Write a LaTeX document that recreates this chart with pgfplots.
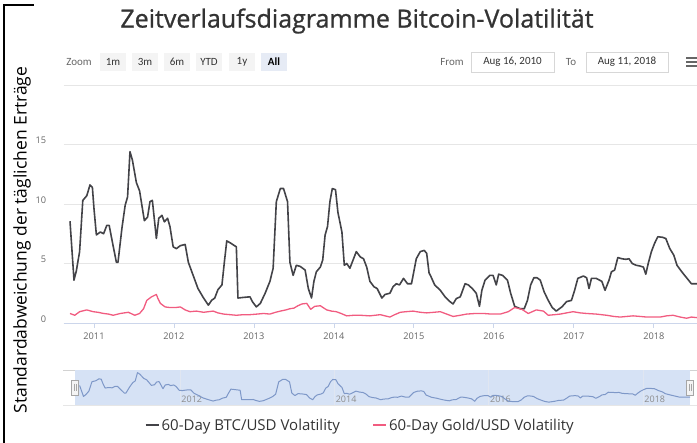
\documentclass[border=0pt]{standalone}
\usepackage{fontspec}
\setmainfont{Open Sans}
\newfontfamily\carl{Carlito}
\newfontfamily\titlefont{Open Sans}[FakeBold=0.9]
\usepackage{pgfplots}
\pgfplotsset{compat=1.18}
\definecolor{btc}{HTML}{434348}
\definecolor{gold}{HTML}{F15C80}
\definecolor{gridc}{HTML}{E6E6E6}
\definecolor{axisc}{HTML}{CCD6EB}
\definecolor{labc}{HTML}{666666}
\definecolor{navfill}{HTML}{D6E2F5}
\definecolor{navline}{HTML}{7E9BD0}
\definecolor{btnbg}{HTML}{F4F4F4}
\definecolor{btnsel}{HTML}{E6EBF5}
\definecolor{titc}{HTML}{333333}

\pgfplotstableread{
x y
2010.70 8.55
2010.75 3.6
2010.78 4.4
2010.82 6.0
2010.86 10.3
2010.91 10.7
2010.95 11.6
2010.98 11.4
2011.00 9.6
2011.03 7.4
2011.08 7.65
2011.12 7.5
2011.16 8.2
2011.19 8.2
2011.23 6.8
2011.28 5.1
2011.30 5.1
2011.35 8.0
2011.39 9.9
2011.42 10.6
2011.45 14.4
2011.48 13.7
2011.53 11.8
2011.57 11.1
2011.63 8.6
2011.67 8.9
2011.70 10.2
2011.73 10.3
2011.78 7.1
2011.81 8.8
2011.85 9.05
2011.88 8.5
2011.92 8.8
2011.95 8.1
2011.99 6.4
2012.03 6.25
2012.08 6.5
2012.14 6.6
2012.18 5.1
2012.24 4.0
2012.30 2.9
2012.37 2.1
2012.43 1.5
2012.47 1.9
2012.51 2.1
2012.55 2.8
2012.60 3.2
2012.63 5.1
2012.66 6.9
2012.70 6.75
2012.78 6.4
2012.80 2.1
2012.87 2.15
2012.95 2.2
2012.98 1.8
2013.03 1.35
2013.08 1.65
2013.14 2.5
2013.20 3.5
2013.24 4.6
2013.28 10.2
2013.33 11.3
2013.37 11.3
2013.42 10.2
2013.45 5.1
2013.49 4.0
2013.53 4.85
2013.58 4.75
2013.64 4.45
2013.68 2.9
2013.72 2.1
2013.75 3.5
2013.78 4.3
2013.83 4.7
2013.86 5.3
2013.89 7.4
2013.92 8.1
2013.95 10.2
2013.98 11.3
2014.02 11.2
2014.05 9.3
2014.10 7.65
2014.13 4.85
2014.16 5.0
2014.20 4.6
2014.24 5.3
2014.28 6.0
2014.33 5.55
2014.37 5.4
2014.41 4.7
2014.45 3.5
2014.50 3.05
2014.54 2.9
2014.60 2.1
2014.64 2.4
2014.70 2.5
2014.74 3.05
2014.78 3.3
2014.82 3.2
2014.87 3.75
2014.92 3.3
2014.97 3.3
2015.03 5.4
2015.08 6.0
2015.13 6.1
2015.16 5.85
2015.19 4.2
2015.21 3.95
2015.26 3.2
2015.33 2.75
2015.39 2.2
2015.45 1.8
2015.49 1.6
2015.53 2.05
2015.58 2.2
2015.64 3.3
2015.68 3.2
2015.73 2.9
2015.78 2.5
2015.82 1.4
2015.85 2.75
2015.89 3.6
2015.95 4.0
2015.99 4.0
2016.03 3.2
2016.06 4.1
2016.11 4.0
2016.17 3.6
2016.21 2.5
2016.26 1.4
2016.33 1.2
2016.38 1.2
2016.42 1.9
2016.46 3.2
2016.50 3.8
2016.54 3.8
2016.58 3.6
2016.63 2.6
2016.68 1.9
2016.73 1.3
2016.78 1.0
2016.85 1.35
2016.91 1.8
2016.97 1.9
2017.01 2.75
2017.05 3.75
2017.12 3.95
2017.16 3.8
2017.19 2.9
2017.22 3.75
2017.28 3.75
2017.35 3.5
2017.39 2.75
2017.44 3.6
2017.47 4.3
2017.51 4.45
2017.55 5.5
2017.60 5.4
2017.65 5.35
2017.69 5.4
2017.73 5.0
2017.78 4.85
2017.82 4.8
2017.87 4.7
2017.90 4.1
2017.93 5.0
2017.97 6.0
2018.01 6.7
2018.05 7.25
2018.11 7.2
2018.15 7.1
2018.20 6.25
2018.25 5.7
2018.29 4.85
2018.35 4.3
2018.41 3.8
2018.47 3.3
2018.54 3.3
2018.61 3.3
}\btcdata

\pgfplotstableread{
x y
2010.70 0.8
2010.76 0.65
2010.82 0.95
2010.91 1.1
2010.99 0.95
2011.05 0.9
2011.12 0.8
2011.18 0.75
2011.24 0.65
2011.33 0.8
2011.43 0.9
2011.51 0.65
2011.57 0.8
2011.62 1.2
2011.66 1.9
2011.72 2.2
2011.78 2.4
2011.80 2.05
2011.83 1.65
2011.89 1.35
2011.95 1.3
2012.02 1.3
2012.08 1.35
2012.14 1.1
2012.20 0.95
2012.28 1.0
2012.37 0.9
2012.43 0.95
2012.49 1.0
2012.55 0.85
2012.62 0.75
2012.70 0.7
2012.78 0.65
2012.87 0.7
2012.95 0.7
2013.04 0.75
2013.12 0.8
2013.20 0.75
2013.27 0.9
2013.33 1.0
2013.40 1.1
2013.45 1.2
2013.50 1.25
2013.55 1.45
2013.60 1.6
2013.66 1.65
2013.71 1.15
2013.76 1.4
2013.83 1.45
2013.91 1.1
2013.97 1.0
2014.03 0.95
2014.09 0.8
2014.16 0.6
2014.25 0.65
2014.33 0.65
2014.45 0.6
2014.58 0.7
2014.70 0.5
2014.76 0.7
2014.83 0.9
2014.90 0.95
2014.99 1.0
2015.08 0.9
2015.16 0.85
2015.25 0.9
2015.33 0.95
2015.41 0.75
2015.49 0.55
2015.58 0.65
2015.66 0.75
2015.77 0.8
2015.87 0.8
2015.97 0.75
2016.08 0.75
2016.18 0.95
2016.26 1.3
2016.35 1.15
2016.43 0.8
2016.53 1.1
2016.62 1.0
2016.68 0.65
2016.76 0.7
2016.83 0.75
2016.91 0.85
2016.99 0.95
2017.08 0.85
2017.16 0.8
2017.28 0.75
2017.41 0.65
2017.50 0.55
2017.58 0.5
2017.66 0.55
2017.74 0.6
2017.83 0.55
2017.91 0.5
2018.00 0.5
2018.08 0.5
2018.16 0.6
2018.24 0.65
2018.33 0.5
2018.41 0.4
2018.47 0.5
2018.54 0.45
2018.61 0.45
}\golddata

\begin{document}
\begin{tikzpicture}
% canvas
\path[use as bounding box] (0pt,0pt) rectangle (697pt,-443pt);

\begin{scope}[x=1pt,y=-1pt]
% left black border
\draw[black, line width=2pt] (4,443) -- (4,5) -- (34,5);
% title
\node[text=titc, font=\titlefont\fontsize{25}{25}\selectfont] at (357,21) {Zeitverlaufsdiagramme Bitcoin-Volatilität};
% zoom row
\node[text=labc, font=\carl\fontsize{11}{11}\selectfont] at (79,62) {Zoom};
\foreach \cx/\lab in {113/1m,145/3m,177/6m,209/YTD,242/1y}{
  \fill[btnbg] (\cx-13,53) rectangle (\cx+13,71);
  \node[text=titc, font=\carl\fontsize{11}{11}\selectfont] at (\cx,62) {\lab};
}
\fill[btnsel] (261,53) rectangle (287,71);
\node[text=black, font=\carl\bfseries\fontsize{11}{11}\selectfont] at (274,62) {All};
\node[text=labc, font=\carl\fontsize{11}{11}\selectfont] at (452,62) {From};
\draw[draw=gridc!60!gray!60, fill=white] (471,52) rectangle (554,72);
\node[text=titc, font=\carl\fontsize{11}{11}\selectfont] at (512.5,62) {Aug 16, 2010};
\node[text=labc, font=\carl\fontsize{11}{11}\selectfont] at (571,62) {To};
\draw[draw=gridc!60!gray!60, fill=white] (586,52) rectangle (668,72);
\node[text=titc, font=\carl\fontsize{11}{11}\selectfont] at (627,62) {Aug 11, 2018};
\foreach \yy in {58,62,66}{\draw[labc, line width=1.6pt] (686,\yy) -- (697,\yy);}
% y label
\node[rotate=90, text=black, font=\fontsize{17.5}{17.5}\selectfont] at (22,240) {Standardabweichung der täglichen Erträge};
% navigator outline
\draw[gridc!70!gray!80, line width=0.8pt] (63,370) -- (697,370);
\draw[gridc, line width=0.8pt] (63,405) -- (697,405);
\end{scope}

% main chart
\begin{axis}[
  at={(63.6pt,-323pt)}, anchor=south west, scale only axis,
  width=633.4pt, height=238pt,
  xmin=2010.62, xmax=2018.54, ymin=0, ymax=20,
  axis x line*=bottom, axis y line*=left,
  x axis line style={draw=axisc, line width=0.8pt, -},
  y axis line style={draw=none},
  xtick={2011,2012,2013,2014,2015,2016,2017,2018},
  xticklabels={2011,2012,2013,2014,2015,2016,2017,2018},
  ytick={0,5,10,15,20},
  yticklabels={0,5,10,15,{}},
  ymajorgrids, grid style={draw=gridc, line width=0.8pt},
  tick align=outside, major tick length=5pt,
  x tick style={draw=axisc, line width=0.8pt},
  y tick style={draw=none},
  ticklabel style={font=\fontsize{9.2}{9.2}\selectfont, text=labc},
  xticklabel style={yshift=-1pt},
  yticklabel style={anchor=east, xshift=-9pt, yshift=4pt},
  legend style={at={(0.468,-0.43)}, anchor=center, draw=none, fill=none,
     legend columns=2, font=\fontsize{15}{15}\selectfont, text=titc,
     /tikz/every even column/.append style={column sep=30pt}},
  legend image code/.code={\draw[#1, line width=2.2pt] (0pt,0pt) -- (13pt,0pt);},
]
\addplot[btc, line width=1.6pt, line join=round] table[x=x,y=y] {\btcdata};
\addlegendentry{60-Day BTC/USD Volatility}
\addplot[gold, line width=1.3pt, line join=round] table[x=x,y=y] {\golddata};
\addlegendentry{60-Day Gold/USD Volatility}
\end{axis}

% navigator
\begin{axis}[
  at={(75pt,-405pt)}, anchor=south west, scale only axis,
  width=615pt, height=35pt,
  xmin=2010.64, xmax=2018.61, ymin=-0.3, ymax=15.6,
  axis background/.style={fill=navfill},
  axis line style={draw=none},
  xtick={2012,2014,2016,2018}, xticklabels={2012,2014,2016,2018}, ytick=\empty,
  xmajorgrids, grid style={draw=white!75!gridc!80!navline, line width=0.6pt},
  major tick length=0pt,
  xticklabel style={anchor=south west, xshift=-2pt, yshift=-1pt, font=\fontsize{9}{9}\selectfont, text=gray!90},
  clip=false,
]
\addplot[navline!90!gray, line width=1pt, line join=round] table[x=x,y=y] {\btcdata};
\end{axis}

\begin{scope}[x=1pt,y=-1pt]
\foreach \hx in {75,690}{
  \draw[fill=btnbg, draw=gray!70, line width=0.6pt] (\hx-3.5,380) rectangle (\hx+3.5,395);
  \draw[gray!70, line width=0.5pt] (\hx-1,384) -- (\hx-1,391) (\hx+1,384) -- (\hx+1,391);
}
\end{scope}
\end{tikzpicture}
\end{document}
